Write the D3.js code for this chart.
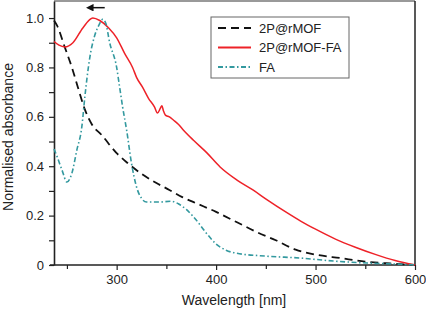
<!DOCTYPE html>
<html>
<head>
<meta charset="utf-8">
<style>
body { margin: 0; background: #fff; }
text { font-family: "Liberation Sans", Arial, sans-serif; fill: #222; }
</style>
</head>
<body>
<svg id="chart" width="426" height="312"></svg>
<script src="https://d3js.org/d3.v7.min.js"></script>
<script>
// 2P@rMOF (black dashed)
let wlMOF = [237, 240, 248, 255, 261, 268, 275, 285, 300, 311, 324, 340, 353, 366, 380, 400, 420, 440, 460, 480, 500, 525, 550, 575, 600];
let absMOF = [0.99, 0.97, 0.88, 0.80, 0.72, 0.63, 0.57, 0.526, 0.453, 0.413, 0.372, 0.332, 0.304, 0.275, 0.25, 0.215, 0.175, 0.135, 0.10, 0.062, 0.042, 0.028, 0.014, 0.006, 0];
// 2P@rMOF-FA (red solid)
let wlMOFFA = [237, 242, 248, 256, 266, 276, 283, 292, 300, 308, 316, 320, 326, 332, 338, 341, 344, 345.5, 347, 349, 353, 357, 362, 367, 377, 391, 404, 421, 437, 451, 470, 485, 500, 520, 540, 560, 580, 600];
let absMOFFA = [0.905, 0.89, 0.883, 0.90, 0.96, 1.0, 0.99, 0.96, 0.92, 0.857, 0.80, 0.76, 0.72, 0.675, 0.64, 0.615, 0.635, 0.645, 0.625, 0.607, 0.60, 0.587, 0.57, 0.547, 0.506, 0.453, 0.397, 0.344, 0.304, 0.265, 0.215, 0.178, 0.145, 0.105, 0.072, 0.043, 0.018, 0];
// FA (teal dash-dot)
let wlFA = [237, 240, 245, 250, 255, 260, 265, 268, 273, 278, 282, 286, 289, 293, 300, 303, 306, 310, 315, 320, 325, 330, 343, 355, 362, 370, 380, 390, 400, 410, 420, 450, 485, 518, 552, 585, 600];
let absFA = [0.47, 0.44, 0.385, 0.336, 0.372, 0.466, 0.56, 0.68, 0.84, 0.93, 0.97, 0.995, 0.98, 0.9, 0.80, 0.72, 0.64, 0.547, 0.41, 0.316, 0.27, 0.255, 0.255, 0.258, 0.248, 0.225, 0.182, 0.13, 0.085, 0.06, 0.048, 0.036, 0.028, 0.016, 0.008, 0.003, 0];

let seriesNames = ["2P@rMOF", "2P@rMOF-FA", "FA"];
let xTicks = [300, 400, 500, 600];
let xMinor = [250, 350, 450, 550];
let yTicks = [0, 0.2, 0.4, 0.6, 0.8, 1.0];
let yMinor = [0.1, 0.3, 0.5, 0.7, 0.9];

let series = [
    {name: seriesNames[0], x: wlMOF, y: absMOF, color: "#111", dash: "8,5", width: 1.8},
    {name: seriesNames[1], x: wlMOFFA, y: absMOFFA, color: "#ee2228", dash: null, width: 1.5},
    {name: seriesNames[2], x: wlFA, y: absFA, color: "#33999f", dash: "5,2.5,1.5,2.5", width: 1.6}
];

let margin = {top: 1, right: 11, bottom: 47, left: 54},
    width = 426 - margin.left - margin.right,
    height = 312 - margin.top - margin.bottom;

let svg = d3.select("#chart");
let chart = svg.append("g")
    .attr("transform", "translate(" + margin.left + "," + margin.top + ")");

let xScale = d3.scaleLinear().domain([237, 600]).range([0, width]);
let yScale = d3.scaleLinear().domain([0, 1.069]).range([height, 0]);

// frame: grey top, black right
chart.append("line")
    .attr("x1", 0).attr("x2", width).attr("y1", 0).attr("y2", 0)
    .attr("stroke", "#999").attr("stroke-width", 2);
chart.append("line")
    .attr("x1", width).attr("x2", width).attr("y1", 0).attr("y2", height)
    .attr("stroke", "#222").attr("stroke-width", 1.5);

// axes
let xAxis = chart.append("g")
    .attr("transform", "translate(0," + height + ")")
    .call(d3.axisBottom(xScale).tickValues(xTicks).tickSize(5).tickPadding(5).tickSizeOuter(0));
chart.append("g")
    .attr("transform", "translate(0," + height + ")")
    .call(d3.axisBottom(xScale).tickValues(xMinor).tickSize(4).tickFormat("").tickSizeOuter(0))
    .select(".domain").remove();
let yAxis = chart.append("g")
    .call(d3.axisLeft(yScale).tickValues(yTicks).tickSize(5).tickPadding(5).tickSizeOuter(0)
        .tickFormat(d => d === 0 ? "0" : d3.format(".1f")(d)));
chart.append("g")
    .call(d3.axisLeft(yScale).tickValues(yMinor).tickSize(5).tickFormat("").tickSizeOuter(0))
    .select(".domain").remove();

chart.selectAll(".domain").attr("stroke", "#222").attr("stroke-width", 1.6);
chart.selectAll(".tick line").attr("stroke", "#222").attr("stroke-width", 1.2);
chart.selectAll(".tick text").attr("font-size", 13).attr("fill", "#222")
    .attr("font-family", "'Liberation Sans', Arial, sans-serif");
xAxis.select(".domain").attr("d", "M-4,0H" + width);

// curves
let line = d3.line()
    .x(d => xScale(d[0]))
    .y(d => yScale(d[1]))
    .curve(d3.curveMonotoneX);

chart.selectAll(".curve")
    .data(series)
    .join("path")
    .attr("class", "curve")
    .attr("fill", "none")
    .attr("stroke", d => d.color)
    .attr("stroke-width", d => d.width)
    .attr("stroke-dasharray", d => d.dash)
    .attr("d", d => line(d.x.map((v, i) => [v, d.y[i]])));

// shift arrow
let defs = svg.append("defs");
defs.append("marker")
    .attr("id", "arrowhead")
    .attr("viewBox", "0 0 10 10")
    .attr("refX", 1).attr("refY", 5)
    .attr("markerWidth", 5).attr("markerHeight", 5)
    .attr("orient", "auto-start-reverse")
    .append("path").attr("d", "M0,0L10,5L0,10z").attr("fill", "#111");
chart.append("line")
    .attr("x1", xScale(288)).attr("x2", xScale(276))
    .attr("y1", yScale(1.042)).attr("y2", yScale(1.042))
    .attr("stroke", "#111").attr("stroke-width", 1.5)
    .attr("marker-end", "url(#arrowhead)");

// legend
let legend = chart.append("g").attr("transform", "translate(157,16)");
legend.append("rect")
    .attr("width", 138).attr("height", 61)
    .attr("fill", "#fff").attr("stroke", "#666").attr("stroke-width", 1);
let item = legend.selectAll(".item")
    .data(series)
    .join("g")
    .attr("class", "item")
    .attr("transform", (d, i) => "translate(0," + (11 + i * 19.5) + ")");
item.append("line")
    .attr("x1", 7).attr("x2", 40)
    .attr("stroke", d => d.color)
    .attr("stroke-width", d => d.width + 0.3)
    .attr("stroke-dasharray", d => d.dash);
item.append("text")
    .attr("x", 48).attr("y", 4.5)
    .attr("font-size", 13)
    .text(d => d.name);

// axis titles
svg.append("text")
    .attr("x", margin.left + xScale(418))
    .attr("y", 305)
    .attr("text-anchor", "middle")
    .attr("font-size", 14)
    .text("Wavelength [nm]");
svg.append("text")
    .attr("transform", "translate(13,137) rotate(-90)")
    .attr("text-anchor", "middle")
    .attr("font-size", 14)
    .text("Normalised absorbance");
</script>
</body>
</html>
